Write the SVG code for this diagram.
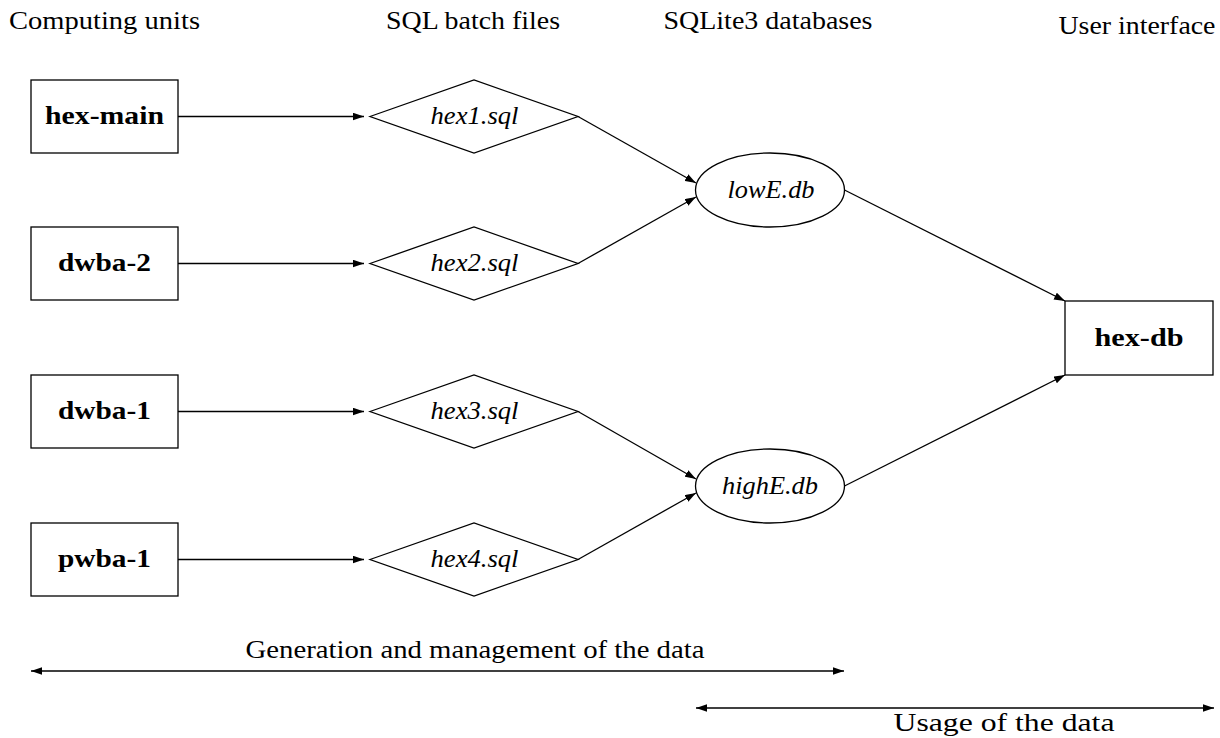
<svg xmlns="http://www.w3.org/2000/svg" width="1220" height="738" viewBox="0 0 1220 738">
<style>
text{font-size:26px;fill:#000}
.b{font-weight:bold}
.i{font-style:italic}
.n{fill:#fff;stroke:#000;stroke-width:1.3}
.c line{stroke:#000;stroke-width:1.3}
</style>
<defs>
<marker id="ah" markerUnits="userSpaceOnUse" markerWidth="12" markerHeight="8" refX="11" refY="3.75" orient="auto-start-reverse" viewBox="0 0 12 8">
<path d="M0,0 L11,3.75 L0,7.5 z" fill="#000"/>
</marker>
</defs>
<rect width="1220" height="738" fill="#fff"/>
<g id="headers" font-family="'Liberation Serif', 'Times New Roman', Tinos, 'DejaVu Serif', serif">
<text x="9" y="29" textLength="191" lengthAdjust="spacingAndGlyphs">Computing units</text>
<text x="473" y="29" text-anchor="middle" textLength="174" lengthAdjust="spacingAndGlyphs">SQL batch files</text>
<text x="768" y="29" text-anchor="middle" textLength="209" lengthAdjust="spacingAndGlyphs">SQLite3 databases</text>
<text x="1137" y="34" text-anchor="middle" textLength="157" lengthAdjust="spacingAndGlyphs">User interface</text>
</g>
<g id="connectors" class="c">
<line x1="178" y1="116.5" x2="364" y2="116.5" marker-end="url(#ah)"/>
<line x1="178" y1="263.5" x2="364" y2="263.5" marker-end="url(#ah)"/>
<line x1="178" y1="411.5" x2="364" y2="411.5" marker-end="url(#ah)"/>
<line x1="178" y1="559.5" x2="364" y2="559.5" marker-end="url(#ah)"/>
<line x1="578" y1="116.5" x2="696" y2="183" marker-end="url(#ah)"/>
<line x1="578" y1="263.5" x2="696" y2="197" marker-end="url(#ah)"/>
<line x1="578" y1="411.5" x2="696" y2="479" marker-end="url(#ah)"/>
<line x1="578" y1="559.5" x2="696" y2="493" marker-end="url(#ah)"/>
<line x1="844.5" y1="190" x2="1065" y2="301" marker-end="url(#ah)"/>
<line x1="844.5" y1="486" x2="1065" y2="375" marker-end="url(#ah)"/>
<line x1="31" y1="671" x2="844" y2="671" marker-start="url(#ah)" marker-end="url(#ah)"/>
<line x1="696" y1="708" x2="1214" y2="708" marker-start="url(#ah)" marker-end="url(#ah)"/>
</g>
<g font-family="'Liberation Serif', 'Times New Roman', Tinos, 'DejaVu Serif', serif">
<g id="hex-main"><rect class="n" x="31" y="80" width="147" height="73"/><text class="b" x="104.5" y="124" text-anchor="middle" textLength="119" lengthAdjust="spacingAndGlyphs">hex-main</text></g>
<g id="dwba-2"><rect class="n" x="31" y="227" width="147" height="73"/><text class="b" x="104.5" y="271" text-anchor="middle" textLength="93" lengthAdjust="spacingAndGlyphs">dwba-2</text></g>
<g id="dwba-1"><rect class="n" x="31" y="375" width="147" height="73"/><text class="b" x="104.5" y="419" text-anchor="middle" textLength="93" lengthAdjust="spacingAndGlyphs">dwba-1</text></g>
<g id="pwba-1"><rect class="n" x="31" y="523" width="147" height="73"/><text class="b" x="104.5" y="567" text-anchor="middle" textLength="93" lengthAdjust="spacingAndGlyphs">pwba-1</text></g>
<g id="hex1"><polygon class="n" points="370,116.5 474,80 578,116.5 474,153"/><text class="i" x="474.5" y="124" text-anchor="middle" textLength="88" lengthAdjust="spacingAndGlyphs">hex1.sql</text></g>
<g id="hex2"><polygon class="n" points="370,263.5 474,227 578,263.5 474,300"/><text class="i" x="474.5" y="271" text-anchor="middle" textLength="88" lengthAdjust="spacingAndGlyphs">hex2.sql</text></g>
<g id="hex3"><polygon class="n" points="370,411.5 474,375 578,411.5 474,448"/><text class="i" x="474.5" y="419" text-anchor="middle" textLength="88" lengthAdjust="spacingAndGlyphs">hex3.sql</text></g>
<g id="hex4"><polygon class="n" points="370,559.5 474,523 578,559.5 474,596"/><text class="i" x="474.5" y="567" text-anchor="middle" textLength="88" lengthAdjust="spacingAndGlyphs">hex4.sql</text></g>
<g id="lowE"><ellipse class="n" cx="770" cy="190" rx="74.5" ry="37"/><text class="i" x="771" y="197.5" text-anchor="middle" textLength="87" lengthAdjust="spacingAndGlyphs">lowE.db</text></g>
<g id="highE"><ellipse class="n" cx="770" cy="486" rx="74.5" ry="37"/><text class="i" x="770" y="494" text-anchor="middle" textLength="96" lengthAdjust="spacingAndGlyphs">highE.db</text></g>
<g id="hex-db"><rect class="n" x="1065" y="301" width="148" height="74"/><text class="b" x="1139" y="345.5" text-anchor="middle" textLength="89" lengthAdjust="spacingAndGlyphs">hex-db</text></g>
<g id="labels">
<text x="475" y="658" text-anchor="middle" textLength="459" lengthAdjust="spacingAndGlyphs">Generation and management of the data</text>
<text x="1004" y="731" text-anchor="middle" textLength="221" lengthAdjust="spacingAndGlyphs">Usage of the data</text>
</g>
</g>
</svg>
